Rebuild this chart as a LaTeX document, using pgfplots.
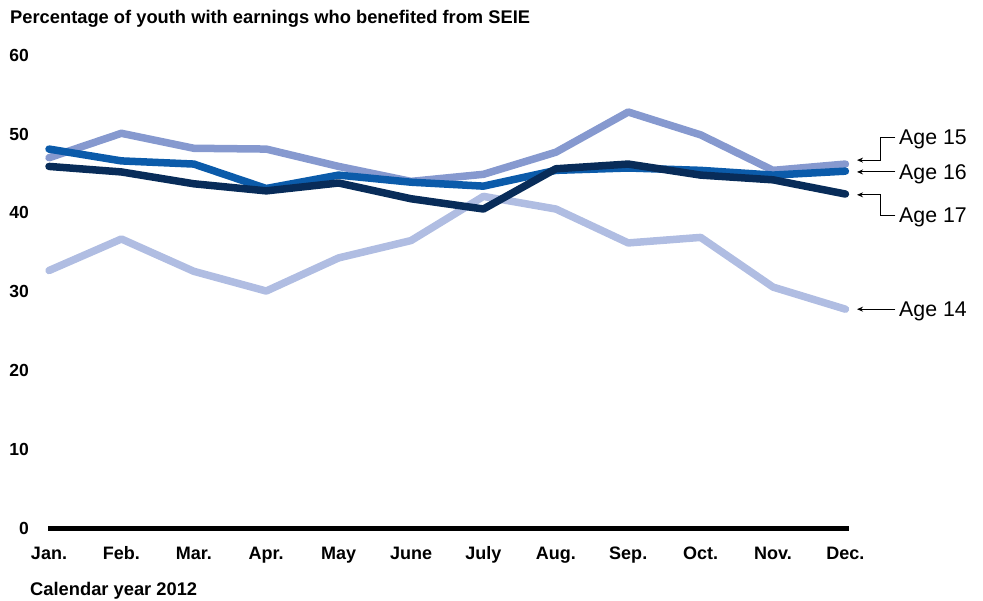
\documentclass[border=0pt]{standalone}
\usepackage{pgfplots}
\pgfplotsset{compat=1.18}
\usepackage{fontspec}
\setmainfont{Liberation Sans}
\usetikzlibrary{arrows.meta}
\definecolor{cA}{HTML}{B0BDE2}
\definecolor{cB}{HTML}{8699CF}
\definecolor{cC}{HTML}{0B5BAA}
\definecolor{cD}{HTML}{082C59}
\tikzset{ylab/.style={anchor=east, inner sep=0pt, font=\fontsize{17.5}{20}\selectfont\bfseries},
  tlab/.style={anchor=base west, inner sep=0pt, font=\fontsize{18.3}{22}\selectfont\bfseries},
  agelab/.style={anchor=west, inner sep=0pt, yshift=-2.5pt, font=\fontsize{21.3}{25}\selectfont},
  ann/.style={line width=1pt, -{Stealth[length=6pt,width=5pt]}}}
\begin{document}
\begin{tikzpicture}
\begin{axis}[
  scale only axis, width=796pt, height=473pt,
  xmin=0, xmax=11, ymin=0, ymax=60,
  clip=false,
  axis y line=none,
  axis x line*=bottom,
  x axis line style={line width=5pt, -, shorten <=-1pt, shorten >=-4pt},
  xtick={0,...,11},
  xticklabels={Jan.,Feb.,Mar.,Apr.,May,June,July,Aug.,Sep.,Oct.,Nov.,Dec.},
  major tick length=0pt,
  xticklabel style={font=\fontsize{18}{21}\selectfont\bfseries, anchor=base, inner sep=0pt, yshift=-31pt},
  /pgf/number format/assume math mode=true,
  every axis plot/.append style={line width=7.5pt, line cap=round, line join=round, mark=none},
]
% Age 14
\addplot[cA] coordinates {(0,32.7)(1,36.7)(2,32.6)(3,30.1)(4,34.3)(5,36.5)(6,42.1)(7,40.5)(8,36.2)(9,36.9)(10,30.6)(11,27.8)};
% Age 15
\addplot[cB] coordinates {(0,47.0)(1,50.1)(2,48.2)(3,48.1)(4,45.9)(5,44.0)(6,44.9)(7,47.7)(8,52.8)(9,49.9)(10,45.4)(11,46.2)};
% Age 16
\addplot[cC] coordinates {(0,48.1)(1,46.6)(2,46.2)(3,43.1)(4,44.8)(5,43.9)(6,43.4)(7,45.4)(8,45.7)(9,45.4)(10,44.8)(11,45.3)};
% Age 17
\addplot[cD] coordinates {(0,45.9)(1,45.2)(2,43.7)(3,42.8)(4,43.8)(5,41.8)(6,40.5)(7,45.6)(8,46.2)(9,44.8)(10,44.2)(11,42.4)};
% y tick labels
\node[ylab] at (axis cs:-0.276,0) {0};
\node[ylab] at (axis cs:-0.276,10) {10};
\node[ylab] at (axis cs:-0.276,20) {20};
\node[ylab] at (axis cs:-0.276,30) {30};
\node[ylab] at (axis cs:-0.276,40) {40};
\node[ylab] at (axis cs:-0.276,50) {50};
\node[ylab] at (axis cs:-0.276,60) {60};
% title and x label
\node[tlab] at (axis cs:-0.539,63.96) {Percentage of youth with earnings who benefited from SEIE};
\node[tlab] at (axis cs:-0.262,-8.50) {Calendar year 2012};
% annotations
\draw[ann] (axis cs:11.69,49.6) -- (axis cs:11.48,49.6) -- (axis cs:11.48,46.7) -- (axis cs:11.16,46.7);
\draw[ann] (axis cs:11.69,45.2) -- (axis cs:11.16,45.2);
\draw[ann] (axis cs:11.69,39.7) -- (axis cs:11.48,39.7) -- (axis cs:11.48,42.3) -- (axis cs:11.16,42.3);
\draw[ann] (axis cs:11.69,27.8) -- (axis cs:11.16,27.8);
\node[agelab] at (axis cs:11.74,49.6) {Age 15};
\node[agelab] at (axis cs:11.74,45.2) {Age 16};
\node[agelab] at (axis cs:11.74,39.7) {Age 17};
\node[agelab] at (axis cs:11.74,27.8) {Age 14};
\coordinate (bl) at (axis cs:-0.677,-9.14);
\coordinate (tr) at (axis cs:12.90,67.0);
\end{axis}
\pgfresetboundingbox
\path (bl) rectangle (tr);
\end{tikzpicture}
\end{document}
